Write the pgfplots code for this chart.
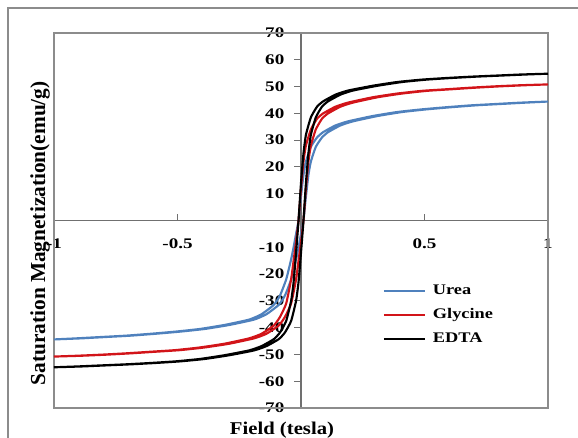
\documentclass[border=0pt]{standalone}
\usepackage{fontspec}
\setmainfont{Liberation Serif}
\usepackage{graphicx}
\usepackage{pgfplots}
\pgfplotsset{compat=1.18}
\definecolor{ureablue}{RGB}{79,129,189}
\definecolor{glyred}{RGB}{210,20,25}
\definecolor{framegray}{RGB}{140,140,140}
\newcommand{\lblfont}{\bfseries\fontsize{11}{13}\selectfont}
% the reference text is set a little wide
\newcommand{\sx}[1]{\scalebox{1.3}[1]{#1}}

\begin{document}
\begin{tikzpicture}
\begin{axis}[
  scale only axis,
  width=370.5pt, height=281.25pt,
  xmin=-1, xmax=1, ymin=-70, ymax=70,
  axis lines=middle,
  axis line style={-, framegray!80!black, line width=0.8pt},
  xtick={-1,-0.5,0,0.5,1},
  xticklabels={\sx{-1},\sx{-0.5},\sx{0},\sx{0.5},\sx{1}},
  ytick={-70,-60,-50,-40,-30,-20,-10,0,10,20,30,40,50,60,70},
  yticklabels={\sx{-70},\sx{-60},\sx{-50},\sx{-40},\sx{-30},\sx{-20},\sx{-10},\sx{0},\sx{10},\sx{20},\sx{30},\sx{40},\sx{50},\sx{60},\sx{70}},
  xtick align=inside, ytick align=outside,
  major tick length=5pt,
  tick style={framegray!80!black, line width=0.8pt},
  tick label style={font=\lblfont},
  x tick label style={yshift=-10pt},
  y tick label style={xshift=-4pt},
  clip=false,
  legend style={at={(axis cs:0.33,-23)}, anchor=north west, draw=none, fill=none,
    font=\lblfont, row sep=5pt, inner sep=0pt,
    /tikz/every odd column/.append style={column sep=3pt}},
  legend cell align=left,
  legend image code/.code={\draw[#1] (0pt,0pt) -- (31pt,0pt);},
]
\draw[framegray, line width=0.9pt] (rel axis cs:0,0) rectangle (rel axis cs:1,1);
\coordinate (bl) at (rel axis cs:0,0);

% Urea
\addplot[ureablue, line width=1.6pt, smooth, tension=0.3] coordinates {
(1.0,44.4)(0.89,44.0)(0.79,43.5)(0.69,43.0)(0.59,42.3)(0.49,41.5)(0.39,40.5)(0.29,39.0)
(0.19,37.0)(0.14,35.5)(0.09,33.0)(0.065,31.0)(0.04,27.5)(0.02,22.0)(0.01,17.0)(0.0,9.0)
(-0.01,0)(-0.02,-5.0)(-0.03,-10.0)(-0.04,-14.5)(-0.06,-22.0)(-0.085,-28.0)(-0.11,-31.5)
(-0.16,-35.0)(-0.21,-37.0)(-0.31,-39.0)(-0.41,-40.5)(-0.51,-41.5)(-0.61,-42.3)(-0.71,-43.0)
(-0.81,-43.5)(-0.91,-44.0)(-1.0,-44.4)
(-0.89,-44.0)(-0.79,-43.5)(-0.69,-43.0)(-0.59,-42.3)(-0.49,-41.5)(-0.39,-40.5)(-0.29,-39.0)
(-0.19,-37.0)(-0.14,-35.0)(-0.09,-31.5)(-0.065,-28.0)(-0.04,-22.0)(-0.02,-14.5)(-0.01,-10.0)(0.0,-5.0)
(0.01,0)(0.02,9.0)(0.03,17.0)(0.04,22.0)(0.06,27.5)(0.085,31.0)(0.11,33.0)
(0.16,35.5)(0.21,37.0)(0.31,39.0)(0.41,40.5)(0.51,41.5)(0.61,42.3)(0.71,43.0)
(0.81,43.5)(0.91,44.0)(1.0,44.4)
};
\addlegendentry{\scalebox{1.25}[1]{Urea}}

% Glycine
\addplot[glyred, line width=1.6pt, smooth, tension=0.3] coordinates {
(1.0,50.8)(0.89,50.5)(0.79,50.1)(0.69,49.6)(0.59,49.0)(0.49,48.4)(0.39,47.4)(0.29,46.0)
(0.19,44.0)(0.14,42.5)(0.09,40.0)(0.065,38.0)(0.04,34.0)(0.02,28.0)(0.01,22.0)(0.0,12.0)
(-0.01,0)(-0.02,-8.0)(-0.03,-15.0)(-0.04,-22.0)(-0.06,-31.0)(-0.085,-36.0)(-0.11,-39.2)
(-0.16,-42.3)(-0.21,-44.0)(-0.31,-46.0)(-0.41,-47.4)(-0.51,-48.4)(-0.61,-49.0)(-0.71,-49.6)
(-0.81,-50.1)(-0.91,-50.5)(-1.0,-50.8)
(-0.89,-50.5)(-0.79,-50.1)(-0.69,-49.6)(-0.59,-49.0)(-0.49,-48.4)(-0.39,-47.4)(-0.29,-46.0)
(-0.19,-44.0)(-0.14,-42.3)(-0.09,-39.2)(-0.065,-36.0)(-0.04,-31.0)(-0.02,-22.0)(-0.01,-15.0)(0.0,-8.0)
(0.01,0)(0.02,12.0)(0.03,22.0)(0.04,28.0)(0.06,34.0)(0.085,38.0)(0.11,40.0)
(0.16,42.5)(0.21,44.0)(0.31,46.0)(0.41,47.4)(0.51,48.4)(0.61,49.0)(0.71,49.6)
(0.81,50.1)(0.91,50.5)(1.0,50.8)
};
\addlegendentry{\scalebox{1.25}[1]{Glycine}}

% EDTA
\addplot[black, line width=1.6pt, smooth, tension=0.3] coordinates {
(1.0,54.8)(0.89,54.5)(0.79,54.1)(0.69,53.7)(0.59,53.2)(0.49,52.6)(0.39,51.7)(0.29,50.3)
(0.19,48.5)(0.14,47.0)(0.09,44.5)(0.065,42.5)(0.04,38.5)(0.02,32.0)(0.01,25.0)(0.0,14.0)
(-0.01,0)(-0.02,-12.0)(-0.03,-23.0)(-0.04,-30.0)(-0.06,-37.5)(-0.085,-41.8)(-0.11,-44.3)
(-0.16,-46.9)(-0.21,-48.5)(-0.31,-50.3)(-0.41,-51.7)(-0.51,-52.6)(-0.61,-53.2)(-0.71,-53.7)
(-0.81,-54.1)(-0.91,-54.5)(-1.0,-54.8)
(-0.89,-54.5)(-0.79,-54.1)(-0.69,-53.7)(-0.59,-53.2)(-0.49,-52.6)(-0.39,-51.7)(-0.29,-50.3)
(-0.19,-48.5)(-0.14,-46.9)(-0.09,-44.3)(-0.065,-41.8)(-0.04,-37.5)(-0.02,-30.0)(-0.01,-23.0)(0.0,-12.0)
(0.01,0)(0.02,14.0)(0.03,25.0)(0.04,32.0)(0.06,38.5)(0.085,42.5)(0.11,44.5)
(0.16,47.0)(0.21,48.5)(0.31,50.3)(0.41,51.7)(0.51,52.6)(0.61,53.2)(0.71,53.7)
(0.81,54.1)(0.91,54.5)(1.0,54.8)
};
\addlegendentry{\scalebox{1.25}[1]{EDTA}}
\end{axis}

% axis titles
\node[font=\bfseries\fontsize{16}{18}\selectfont, rotate=90] at ([xshift=-10.5pt, yshift=131pt]bl) {Saturation Magnetization(emu/g)};
\node[font=\bfseries\fontsize{13.5}{15}\selectfont] at ([xshift=171pt, yshift=-16.5pt]bl) {\scalebox{1.15}[1]{Field (tesla)}};

% outer chart border, cut by the page
\draw[framegray, line width=0.9pt] ([xshift=-34.5pt, yshift=-60pt]bl) -- ([xshift=-34.5pt, yshift=300pt]bl) -- ([xshift=440pt, yshift=300pt]bl);

\pgfresetboundingbox
\useasboundingbox ([xshift=-40.5pt, yshift=-22.5pt]bl) rectangle ([xshift=393pt, yshift=306pt]bl);
\end{tikzpicture}
\end{document}
